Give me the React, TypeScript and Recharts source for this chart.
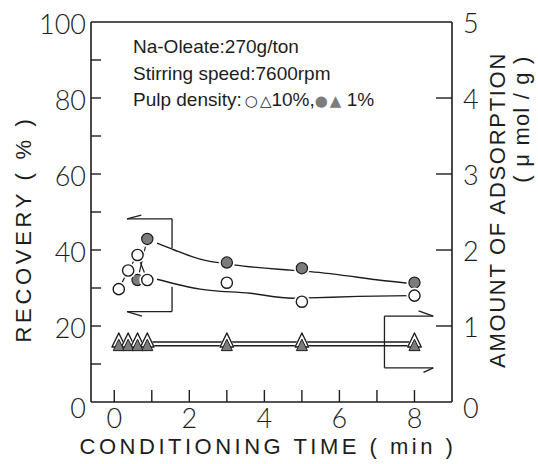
import { ComposedChart, Line, Scatter, XAxis, YAxis, ReferenceLine } from 'recharts';

const W = 538;
const H = 464;
const PLOT = { left: 91, right: 452, top: 22, bottom: 402 };
const INK = '#1d1d1d';
const GREY = '#7c7c7c';
const FONT = '"Liberation Sans", Arial, sans-serif';
const THIN = 'Lato, "Liberation Sans", sans-serif';

// recovery (%) — open circles: 10 % pulp, filled circles: 1 % pulp
const openTimes = [0.12, 0.37, 0.62, 0.88, 3, 5, 8];
const openRecovery = [29.7, 34.6, 38.7, 32.1, 31.4, 26.4, 28.0];
const filledTimes = [0.62, 0.88, 3, 5, 8];
const filledRecovery = [32.1, 42.9, 36.7, 35.2, 31.4];

// amount of adsorption (μmol/g) — open / filled triangles
const adsTimes = [0.12, 0.37, 0.62, 0.88, 3, 5, 8];
const openAdsorption = [0.79, 0.79, 0.79, 0.79, 0.79, 0.79, 0.79];
const filledAdsorption = [0.74, 0.74, 0.74, 0.74, 0.74, 0.74, 0.74];

// smoothed trend curves drawn through the recovery points
const filledTrendTimes = [1.14, 1.6, 2.29, 3.18, 4.69, 5.22, 7.71, 7.95];
const filledTrendRecovery = [41.8, 40.0, 37.6, 36.1, 34.7, 34.3, 31.4, 31.2];
const openTrendTimes = [1.14, 2.29, 3.62, 4.75, 5.2, 6.5, 7.9];
const openTrendRecovery = [32.3, 29.7, 28.6, 27.3, 27.4, 27.8, 28.0];

const timeTicks = [0, 1, 2, 3, 4, 5, 6, 7, 8];
const recoveryTicks = [0, 10, 20, 30, 40, 50, 60, 70, 80, 90, 100];
const adsorptionTicks = [0, 1, 2, 3, 4, 5];

const zip = (ts: number[], vs: number[]) => ts.map((t, i) => ({ t, v: vs[i] }));

const openPts = zip(openTimes, openRecovery);
const filledPts = zip(filledTimes, filledRecovery);
const openAds = zip(adsTimes, openAdsorption);
const filledAds = zip(adsTimes, filledAdsorption);
const filledTrend = zip(filledTrendTimes, filledTrendRecovery);
const openTrend = zip(openTrendTimes, openTrendRecovery);

const tickText = { fontFamily: THIN, fontWeight: 300, fontSize: 27, fill: INK };

const LeftTick = ({ y, payload }: any) => {
  const v = payload.value;
  return (
    <g>
      {v > 0 && v < 100 && (
        <line x1={PLOT.left} x2={PLOT.left + 10} y1={y} y2={y} stroke={INK} strokeWidth={1.4} />
      )}
      {v % 20 === 0 && (
        <text x={PLOT.left - 5} y={y + (v === 0 ? 6 : 2)} dy="0.36em" textAnchor="end" {...tickText}>
          {v}
        </text>
      )}
    </g>
  );
};

const RightTick = ({ y, payload }: any) => {
  const v = payload.value;
  return (
    <g>
      {v > 0 && v < 5 && (
        <line x1={PLOT.right - 16} x2={PLOT.right} y1={y} y2={y} stroke={INK} strokeWidth={1.4} />
      )}
      <text x={PLOT.right + 11} y={y + (v === 0 ? 6 : 1)} dy="0.36em" textAnchor="start" {...tickText}>
        {v}
      </text>
    </g>
  );
};

const BottomTick = ({ x, payload }: any) => {
  const v = payload.value;
  return (
    <g>
      <line x1={x} x2={x} y1={PLOT.bottom} y2={PLOT.bottom - 12} stroke={INK} strokeWidth={1.4} />
      {v % 2 === 0 && (
        <text x={x} y={428} textAnchor="middle" {...tickText}>
          {v}
        </text>
      )}
    </g>
  );
};

// markers with a white halo so the lines break around them
const OpenCircle = ({ cx, cy }: any) => (
  <g>
    <circle cx={cx} cy={cy} r={8} fill="#fff" />
    <circle cx={cx} cy={cy} r={5.6} fill="#fff" stroke={INK} strokeWidth={1.4} />
  </g>
);

const FilledCircle = ({ cx, cy }: any) => (
  <g>
    <circle cx={cx} cy={cy} r={8} fill="#fff" />
    <circle cx={cx} cy={cy} r={5.6} fill={GREY} stroke={INK} strokeWidth={1.2} />
  </g>
);

const tri = (cx: number, cy: number, s: number) =>
  `${cx},${cy - s} ${cx + s * 0.85},${cy + s * 0.75} ${cx - s * 0.85},${cy + s * 0.75}`;

const OpenTriangle = ({ cx, cy }: any) => (
  <g>
    <polygon points={tri(cx, cy - 1, 10)} fill="#fff" />
    <polygon points={tri(cx, cy - 1, 8)} fill="#fff" stroke={INK} strokeWidth={1.4} strokeLinejoin="round" />
  </g>
);

const FilledTriangle = ({ cx, cy }: any) => (
  <polygon points={tri(cx, cy, 6.5)} fill={GREY} stroke={INK} strokeWidth={1} strokeLinejoin="round" />
);

// guide arrows: which curves belong to which axis
const seg = (x1: number, y1: number, x2: number, y2: number) => [
  { x: x1, y: y1 },
  { x: x2, y: y2 },
];
const arrowSegments = [
  // left bracket -> recovery axis
  seg(0.34, 48.2, 1.54, 48.2),
  seg(0.34, 48.2, 0.72, 49.2),
  seg(1.54, 48.2, 1.54, 40.5),
  seg(1.54, 30.3, 1.54, 23.8),
  seg(0.34, 23.8, 1.54, 23.8),
  seg(0.34, 23.8, 0.74, 22.6),
  // right bracket -> adsorption axis
  seg(7.2, 22.6, 7.2, 9.0),
  seg(7.2, 22.6, 8.5, 22.6),
  seg(8.5, 22.6, 8.11, 24.0),
  seg(7.2, 9.0, 8.5, 9.0),
  seg(8.5, 9.0, 8.24, 7.8),
];

const titleStyle = { fontFamily: FONT, fontSize: 22, fill: INK };
const noteStyle = { fontFamily: FONT, fontSize: 19, fill: INK };
const symStyle = { fontFamily: '"DejaVu Sans", sans-serif', fontSize: 15 };

export default function App() {
  return (
    <div style={{ position: 'absolute', left: 0, top: 0, width: W, height: H, background: '#fff' }}>
      <ComposedChart
        width={W}
        height={H}
        margin={{ top: PLOT.top, left: PLOT.left - 50, right: W - PLOT.right - 50, bottom: H - PLOT.bottom - 30 }}
      >
        <XAxis
          xAxisId="t"
          dataKey="t"
          type="number"
          domain={[-0.62, 9.0]}
          ticks={timeTicks}
          interval={0}
          tickLine={false}
          tick={<BottomTick />}
          axisLine={{ stroke: INK, strokeWidth: 1.6 }}
          height={30}
          allowDataOverflow
        />
        <YAxis
          yAxisId="rec"
          dataKey="v"
          type="number"
          domain={[0, 100]}
          ticks={recoveryTicks}
          interval={0}
          tickLine={false}
          tick={<LeftTick />}
          axisLine={{ stroke: INK, strokeWidth: 1.6 }}
          width={50}
        />
        <YAxis
          yAxisId="ads"
          orientation="right"
          dataKey="v"
          type="number"
          domain={[0, 5]}
          ticks={adsorptionTicks}
          interval={0}
          tickLine={false}
          tick={<RightTick />}
          axisLine={{ stroke: INK, strokeWidth: 1.6 }}
          width={50}
        />
        <ReferenceLine xAxisId="t" yAxisId="rec" y={100} stroke={INK} strokeWidth={1.6} />

        {arrowSegments.map((s, i) => (
          <ReferenceLine key={i} xAxisId="t" yAxisId="rec" segment={s} stroke={INK} strokeWidth={1.3} />
        ))}

        <Line xAxisId="t" yAxisId="rec" data={filledTrend} dataKey="v" type="monotone" stroke={INK} strokeWidth={1.4} dot={false} isAnimationActive={false} />
        <Line xAxisId="t" yAxisId="rec" data={openTrend} dataKey="v" type="monotone" stroke={INK} strokeWidth={1.4} dot={false} isAnimationActive={false} />
        <Line xAxisId="t" yAxisId="rec" data={openPts.slice(0, 4)} dataKey="v" stroke={INK} strokeWidth={1.2} dot={false} isAnimationActive={false} />
        <Line xAxisId="t" yAxisId="rec" data={filledPts.slice(0, 2)} dataKey="v" stroke={INK} strokeWidth={1.2} dot={false} isAnimationActive={false} />
        <Line xAxisId="t" yAxisId="ads" data={openAds.slice(3)} dataKey="v" stroke={INK} strokeWidth={1.4} dot={false} isAnimationActive={false} />
        <Line xAxisId="t" yAxisId="ads" data={filledAds.slice(3)} dataKey="v" stroke={INK} strokeWidth={1.4} dot={false} isAnimationActive={false} />

        <Scatter xAxisId="t" yAxisId="ads" data={openAds} dataKey="v" shape={<OpenTriangle />} isAnimationActive={false} />
        <Scatter xAxisId="t" yAxisId="ads" data={filledAds} dataKey="v" shape={<FilledTriangle />} isAnimationActive={false} />
        <Scatter xAxisId="t" yAxisId="rec" data={filledPts} dataKey="v" shape={<FilledCircle />} isAnimationActive={false} />
        <Scatter xAxisId="t" yAxisId="rec" data={openPts} dataKey="v" shape={<OpenCircle />} isAnimationActive={false} />
      </ComposedChart>

      <svg width={W} height={H} style={{ position: 'absolute', left: 0, top: 0, pointerEvents: 'none' }}>
        <text x={133} y={53} {...noteStyle}>Na-Oleate:270g/ton</text>
        <text x={133} y={79.5} {...noteStyle}>Stirring speed:7600rpm</text>
        <text x={133} y={106} {...noteStyle}>
          Pulp density:
          <tspan {...symStyle} dx={3}>○</tspan>
          <tspan {...symStyle} dx={2}>△</tspan>
          <tspan>10%,</tspan>
          <tspan {...symStyle} fill={GREY}>●</tspan>
          <tspan {...symStyle} fill={GREY} dx={2}>▲</tspan>
          <tspan> 1%</tspan>
        </text>

        <text
          transform="translate(31,229) rotate(-90)"
          textAnchor="middle"
          letterSpacing={3.7}
          {...titleStyle}
        >
          RECOVERY ( % )
        </text>
        <text
          transform="translate(505,210) rotate(-90)"
          textAnchor="middle"
          letterSpacing={1.7}
          {...titleStyle}
        >
          AMOUNT OF ADSORPTION
        </text>
        <text
          transform="translate(529,119) rotate(-90)"
          textAnchor="middle"
          letterSpacing={1.2}
          {...titleStyle}
        >
          ( μ mol / g )
        </text>
        <text x={268} y={454} textAnchor="middle" letterSpacing={3.5} {...titleStyle}>
          CONDITIONING TIME ( min )
        </text>
      </svg>
    </div>
  );
}
